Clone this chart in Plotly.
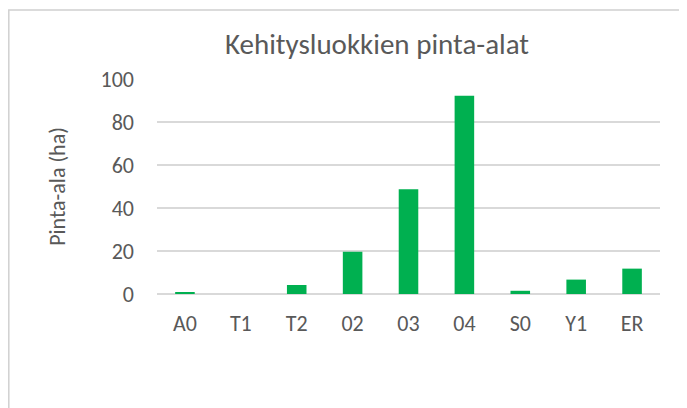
import plotly.graph_objects as go

categories = ["A0", "T1", "T2", "02", "03", "04", "S0", "Y1", "ER"]
values = [0.9, 0, 4.2, 19.7, 48.7, 92.2, 1.5, 6.7, 11.8]
y_ticks = [0, 20, 40, 60, 80, 100]

W, H = 687, 408
OFF = 8  # page body margin offset
L, T = 157 - OFF, 79 - OFF
R = W - (660 - OFF)
B = H - (294 - OFF)
pw = W - L - R
ph = H - T - B

def px_to_paper_x(px):
    return (px - OFF - L) / pw

def px_to_paper_y(py):
    return (H - B - (py - OFF)) / ph

font_fam = "Carlito, Calibri, Lato, sans-serif"
txt = "#595959"

fig = go.Figure(go.Bar(
    x=categories, y=values,
    marker=dict(color="#00b050", line=dict(width=0)),
    width=0.35,
))

fig.update_layout(
    width=W, height=H,
    margin=dict(l=L, r=R, t=T, b=B),
    paper_bgcolor="white", plot_bgcolor="white",
    font=dict(family=font_fam, color=txt),
    showlegend=False,
    title=dict(text="Kehitysluokkien pinta-alat", x=px_to_paper_x(377), xref="paper",
               xanchor="center", y=1 - (44 - OFF) / H, yanchor="middle",
               font=dict(size=29, color=txt, family=font_fam)),
    xaxis=dict(type="category", showgrid=False, showline=False, zeroline=False,
               ticks="", tickfont=dict(size=22, color=txt), ticklabelstandoff=14),
    yaxis=dict(range=[0, 100], tickvals=y_ticks, showgrid=True, gridcolor="#d9d9d9",
               gridwidth=1.5, zeroline=True, zerolinecolor="#d9d9d9", zerolinewidth=1.5,
               showline=False, ticks="", tickfont=dict(size=22, color=txt),
               ticklabelstandoff=22,
               title=dict(text="Pinta-ala (ha)", font=dict(size=22, color=txt), standoff=28)),
    shapes=[dict(type="rect", xref="paper", yref="paper",
                 x0=px_to_paper_x(8.8), x1=px_to_paper_x(720),
                 y0=px_to_paper_y(440), y1=px_to_paper_y(10),
                 line=dict(color="#d0d0d0", width=1.5), fillcolor="rgba(0,0,0,0)", layer="below")],
)

fig.write_html("out.html")
